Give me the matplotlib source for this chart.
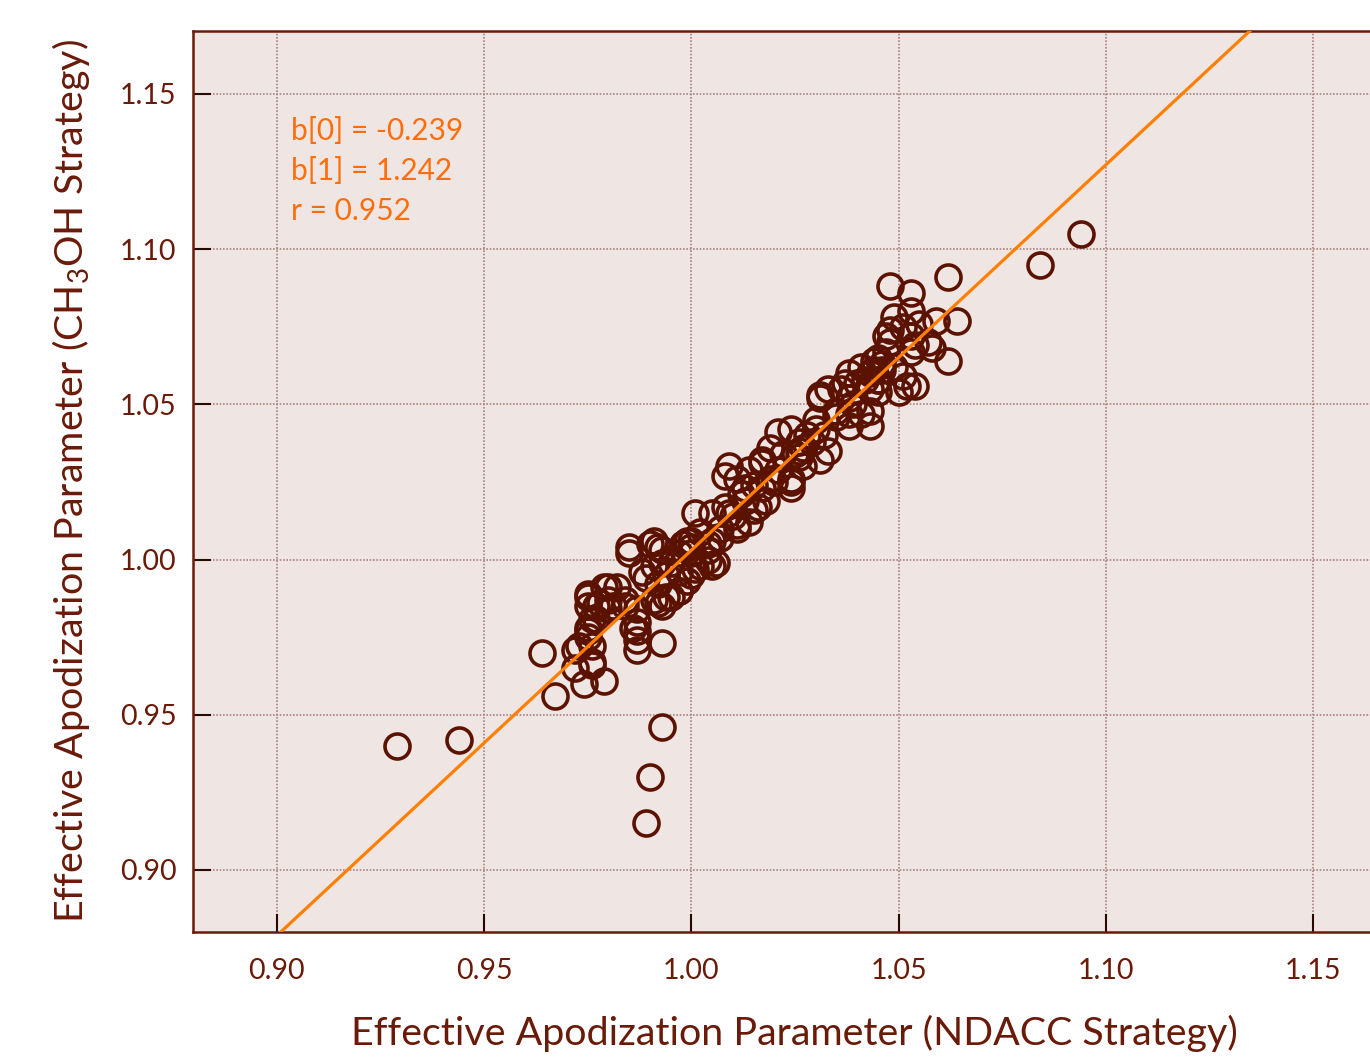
import matplotlib
matplotlib.use("Agg")
import matplotlib.pyplot as plt
import numpy as np

plt.rcParams['font.family'] = ['Lato', 'DejaVu Sans']
plt.rcParams['mathtext.fontset'] = 'custom'
plt.rcParams['mathtext.rm'] = 'Lato'
plt.rcParams['mathtext.it'] = 'Lato:italic'

# NDACC strategy (x) vs CH3OH strategy (y) effective apodization parameter
x_ndacc = [
    0.929, 0.944, 0.964, 0.967, 0.989, 0.990, 0.993, 0.993, 1.084, 1.094, 1.062,
    0.972, 0.972, 0.974, 0.979, 0.976, 0.976, 0.975, 0.976, 0.975, 0.979, 0.980,
    0.982, 0.977, 0.980, 0.984, 0.985, 0.985, 0.987, 0.987, 0.987, 0.987, 0.991,
    0.992, 0.988, 0.989, 0.991, 0.993, 0.992, 0.994, 0.991, 0.993, 0.995, 0.997,
    0.999, 0.997, 0.998, 1.000, 1.002, 1.004, 1.006, 1.001, 1.005, 1.009, 1.011,
    1.015, 1.007, 1.000,
    1.008, 1.009, 1.011, 1.013, 1.014, 1.017, 1.016, 1.014, 1.011, 1.007, 1.005,
    1.004, 1.005, 0.999, 1.020, 1.024, 1.021, 1.019, 1.025, 1.018, 1.010,
    1.021, 1.024, 1.026, 1.028, 1.030, 1.033, 1.031, 1.027, 1.024, 1.019, 1.017,
    1.024, 1.031, 1.033, 1.038, 1.038, 1.043, 1.043, 1.041, 1.035, 1.045,
    1.038, 1.031, 1.036, 1.038, 1.041, 1.044, 1.047, 1.048, 1.050, 1.045, 1.040,
    1.043,
    1.048, 1.053, 1.053, 1.049, 1.059, 1.064, 1.055, 1.051, 1.048, 1.047, 1.053,
    1.057, 1.054, 1.058, 1.062, 1.053, 1.045, 1.046, 1.051, 1.054, 1.052, 1.045,
    1.043,
    0.990, 0.993, 0.995, 0.997, 1.000, 1.002, 0.975, 0.980, 0.975, 0.978, 0.981,
    0.984, 0.987, 0.992, 0.994, 0.997, 0.975, 0.975, 0.973, 0.977, 0.986, 0.976,
    1.000, 1.001, 1.004,
    1.030, 1.026, 1.017, 1.013, 1.008,
    1.022, 1.027, 1.029, 1.032, 1.035, 1.039, 1.042, 1.044, 1.046, 1.015, 1.012,
    1.026, 1.037, 1.049,
]
y_ch3oh = [
    0.940, 0.942, 0.970, 0.956, 0.915, 0.930, 0.946, 0.973, 1.095, 1.105, 1.091,
    0.971, 0.965, 0.960, 0.961, 0.966, 0.972, 0.977, 0.981, 0.988, 0.991, 0.987,
    0.991, 0.985, 0.984, 0.985, 1.004, 1.002, 0.980, 0.977, 0.974, 0.971, 1.006,
    1.004, 0.996, 0.994, 0.998, 0.999, 0.992, 0.995, 0.987, 0.985, 0.988, 0.990,
    0.993, 0.996, 1.005, 1.006, 0.998, 1.000, 0.999, 1.015, 1.015, 1.015, 1.011,
    1.016, 1.007, 1.002,
    1.017, 1.030, 1.026, 1.023, 1.029, 1.032, 1.017, 1.012, 1.010, 1.010, 1.006,
    1.003, 0.998, 1.006, 1.025, 1.025, 1.029, 1.036, 1.034, 1.019, 1.014,
    1.041, 1.042, 1.038, 1.040, 1.042, 1.035, 1.032, 1.030, 1.026, 1.026, 1.031,
    1.023, 1.052, 1.055, 1.052, 1.043, 1.043, 1.048, 1.047, 1.046, 1.054,
    1.047, 1.053, 1.055, 1.060, 1.062, 1.064, 1.067, 1.070, 1.054, 1.058, 1.057,
    1.055,
    1.088, 1.086, 1.080, 1.078, 1.077, 1.077, 1.076, 1.075, 1.074, 1.072, 1.072,
    1.070, 1.069, 1.068, 1.064, 1.067, 1.065, 1.061, 1.059, 1.056, 1.056, 1.058,
    1.060,
    1.005, 1.003, 0.999, 1.002, 1.004, 1.009, 0.989, 0.991, 0.985, 0.986, 0.985,
    0.987, 0.984, 0.986, 0.988, 0.990, 0.978, 0.975, 0.972, 0.981, 0.978, 0.967,
    0.995, 0.997, 1.005,
    1.045, 1.035, 1.023, 1.019, 1.027,
    1.034, 1.036, 1.038, 1.040, 1.048, 1.050, 1.058, 1.061, 1.063, 1.024, 1.021,
    1.033, 1.057, 1.062,
]

b0 = -0.239
b1 = 1.242
r_val = 0.952

x_ticks = [0.90, 0.95, 1.00, 1.05, 1.10, 1.15]
y_ticks = [0.90, 0.95, 1.00, 1.05, 1.10, 1.15]
xlim = (0.8798, 1.1637)
ylim = (0.8800, 1.1703)

brown = '#5C1200'
label_col = '#6A1A08'
orange = '#FF8000'
bg = '#EFE5E3'

fig = plt.figure(figsize=(13.7, 10.61), dpi=100)
ax = fig.add_axes([0.1409, 0.1216, 0.8591, 0.8492])
ax.set_facecolor(bg)

ax.set_xlim(*xlim)
ax.set_ylim(*ylim)
ax.set_xticks(x_ticks)
ax.set_yticks(y_ticks)
ax.set_xticklabels([f'{v:.2f}' for v in x_ticks])
ax.set_yticklabels([f'{v:.2f}' for v in y_ticks])

ax.grid(True, color='#A88480', linestyle=(0, (1, 1)), linewidth=1.2)
ax.set_axisbelow(True)

ax.plot(x_ndacc, y_ch3oh, linestyle='none', marker='o', markersize=18,
        markerfacecolor='none', markeredgecolor=brown, markeredgewidth=2.6,
        zorder=3)

xl = np.array(xlim)
ax.plot(xl, b0 + b1 * xl, color=orange, linewidth=2.3, zorder=4)

ax.text(0.0833, 0.905, f'b[0] = {b0:.3f}\nb[1] = {b1:.3f}\nr = {r_val:.3f}',
        transform=ax.transAxes, color='#FF6E0A', fontsize=21.5,
        va='top', ha='left', linespacing=1.53)

for s in ['left', 'bottom', 'top']:
    ax.spines[s].set_color(label_col)
    ax.spines[s].set_linewidth(1.8)
ax.spines['right'].set_visible(False)

ax.tick_params(axis='both', direction='in', length=13, width=1.5,
               color='#2A0A00', labelcolor=label_col, labelsize=20.5)
ax.tick_params(axis='x', pad=19)
ax.tick_params(axis='y', pad=12)
ax.tick_params(top=False, right=False)

ax.set_xlabel('Effective Apodization Parameter (NDACC Strategy)',
              fontsize=28.4, color=label_col, labelpad=22)
ax.xaxis.label.set_x(0.511)
ax.set_ylabel(r'Effective Apodization Parameter (CH$_3$OH Strategy)',
              fontsize=28.4, color=label_col, labelpad=20)

fig.savefig('out.png', dpi=100)
